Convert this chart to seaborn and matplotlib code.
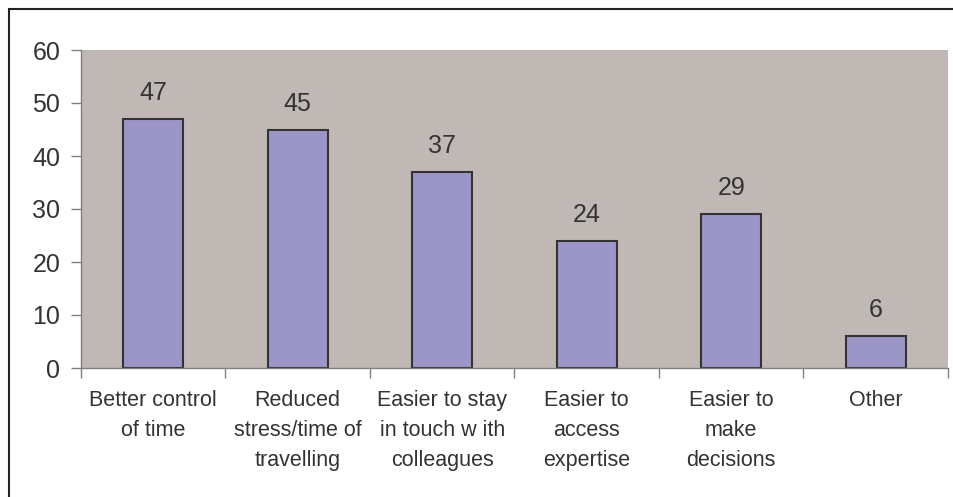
import matplotlib
matplotlib.use("Agg")
import matplotlib.pyplot as plt
import matplotlib.patches as mpatches
import seaborn as sns
import pandas as pd

# data
categories = [
    "Better control\nof time",
    "Reduced\nstress/time of\ntravelling",
    "Easier to stay\nin touch w ith\ncolleagues",
    "Easier to\naccess\nexpertise",
    "Easier to\nmake\ndecisions",
    "Other",
]
values = [47, 45, 37, 24, 29, 6]
y_ticks = [0, 10, 20, 30, 40, 50, 60]

df = pd.DataFrame({"category": categories, "value": values})

sns.set_theme(style="white")
plt.rcParams["font.family"] = ["Liberation Sans", "DejaVu Sans"]

TEXT = "#333333"
PLOT_BG = "#C0B8B4"
BAR = "#9C95C8"

fig = plt.figure(figsize=(9.54, 4.97), dpi=100)
ax = fig.add_axes([81 / 954, 1 - 368 / 497, (948 - 81) / 954, (368 - 50) / 497])
ax.set_facecolor(PLOT_BG)

sns.barplot(data=df, x="category", y="value", color=BAR, width=0.415,
            edgecolor="#333333", linewidth=1.5, saturation=1, ax=ax)

ax.bar_label(ax.containers[0], padding=10, fontsize=18, color=TEXT)

ax.set_ylim(0, 60)
ax.set_yticks(y_ticks)
ax.set_xlim(-0.5, len(categories) - 0.5)
ax.set_xlabel("")
ax.set_ylabel("")

# category ticks sit between the groups, like the Excel original
ax.set_xticks(range(len(categories)))
ax.set_xticklabels(categories, fontsize=15.5, color=TEXT, linespacing=1.56)
ax.set_xticks([i - 0.5 for i in range(len(categories) + 1)], minor=True)
ax.tick_params(axis="x", which="major", length=0, pad=16)
ax.tick_params(axis="x", which="minor", length=7, width=1, color="#808080", bottom=True)
ax.tick_params(axis="y", length=7, width=1, color="#808080", left=True,
               labelsize=18, labelcolor=TEXT, pad=8)

for side in ["top", "right"]:
    ax.spines[side].set_visible(False)
for side in ["left", "bottom"]:
    ax.spines[side].set_color("#808080")
    ax.spines[side].set_linewidth(1)

# outer chart frame, clipped by the image at right and bottom
frame = mpatches.Rectangle((9 / 954, -0.02), 1.0, 1 - 9 / 497 + 0.02,
                           transform=fig.transFigure, fill=False,
                           edgecolor="#222222", linewidth=1.5, clip_on=False)
fig.patches.append(frame)

fig.savefig("out.png", dpi=100, facecolor="white")
